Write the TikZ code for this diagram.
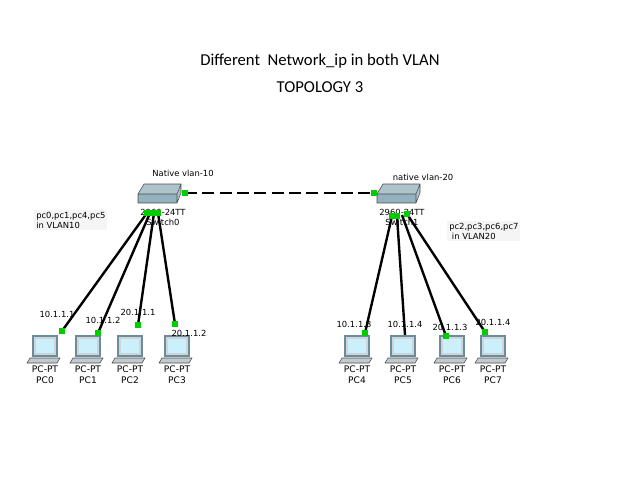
\documentclass[tikz,border=0pt]{standalone}
\usepackage{fontspec}
\setmainfont{Carlito}
\newfontfamily\tah{DejaVu Sans}
\begin{document}
\begin{tikzpicture}[x=0.75pt,y=-0.75pt,
  lbl/.style={font=\tah\fontsize{6.3}{7.5}\selectfont,inner sep=0.5pt},
  link/.style={line width=1.8pt,black},
  dot/.style={fill=green!80!black,draw=none,minimum size=5pt,inner sep=0pt,rectangle},
  pcl/.style={font=\tah\fontsize{6.8}{8.5}\selectfont,align=center,inner sep=0pt}]
\useasboundingbox (0,0) rectangle (638,479);
\node (t1) at (320,61) {\fontsize{12.5}{14}\selectfont Different\ \ Network\_ip in both VLAN};
\node (t2) at (320,87) {\fontsize{12.5}{14}\selectfont TOPOLOGY 3};
\tikzset{pics/sw/.style={code={
  \fill[cyan!25!gray!60] (-21,-1) -- (-15,-11) -- (22,-11) -- (18,-1) -- cycle;
  \fill[cyan!30!gray!80] (-21,-1) rectangle (18,8);
  \fill[gray!70!cyan!60] (18,-1) -- (22,-11) -- (22,-2) -- (18,8) -- cycle;
  \draw[gray!60!black,line width=0.4pt] (-21,-1) -- (-15,-11) -- (22,-11) -- (22,-2) -- (18,8) -- (-21,8) -- cycle (-21,-1)--(18,-1)--(22,-11) (18,-1)--(18,8);
}}}
\tikzset{pics/pc/.style={code={
  \fill[cyan!15!gray!40] (-12,-14) rectangle (12,6);
  \draw[gray!60!cyan!80!black,line width=0.9pt] (-12,-14) rectangle (12,6);
  \fill[cyan!20!white] (-9,-11) rectangle (9,3);
  \fill[cyan!15!gray!50] (-15,8) -- (15,8) -- (12,13) -- (-18,13) -- cycle;
  \draw[gray!60!black,line width=0.4pt] (-15,8) -- (15,8) -- (12,13) -- (-18,13) -- cycle;
}}}
\pic at (159,195) {sw};
\pic at (398,195) {sw};
\node[lbl] (nv1) at (183,173) {Native vlan-10};
\node[lbl] (nv2) at (423,177) {native vlan-20};
\node[lbl,align=center] (s0) at (163,217) {2960-24TT\\Switch0};
\node[lbl,align=center] (s1) at (402,217) {2960-24TT\\Switch1};
\node[lbl,align=left,fill=gray!8,anchor=west,inner sep=1.5pt] (n1) at (34,220) {pc0,pc1,pc4,pc5\\in VLAN10};
\node[lbl,align=left,fill=gray!8,anchor=west,inner sep=1.5pt] (n2) at (447,231) {pc2,pc3,pc6,pc7\\\ in VLAN20};
\coordinate (a0) at (147,213); \coordinate (a1) at (150,213); \coordinate (a2) at (154,213); \coordinate (a3) at (158,213);
\coordinate (b0) at (392,216); \coordinate (b1) at (397,216); \coordinate (b2) at (402,215); \coordinate (b3) at (407,214);
\foreach \n/\x in {0/45,1/88,2/130,3/177,4/357,5/403,6/452,7/493}{
  \pic at (\x,350) {pc};
  \node[pcl] (pc\n) at (\x,375) {PC-PT\\PC\n};
}
\coordinate (e0) at (62,331); \coordinate (e1) at (98,333); \coordinate (e2) at (138,325); \coordinate (e3) at (175,324);
\coordinate (e4) at (365,333); \coordinate (e5) at (405,335); \coordinate (e6) at (446,336); \coordinate (e7) at (485,332);
\draw[link] (a0)--(e0) (a1)--(e1) (a2)--(e2) (a3)--(e3);
\draw[link] (b0)--(e4) (b1)--(e5) (b2)--(e6) (b3)--(e7);
\draw[line width=2pt,dash pattern=on 9pt off 4pt] (185,193) -- (374,193);
\foreach \c in {e0,e1,e2,e3,e4,e6,e7,a0,a1,a2,a3,b0,b1,b3}{\node[dot] at (\c) {};}
\node[dot] at (185,193) {}; \node[dot] at (374,193) {};
\node[lbl] (i0) at (57,314) {10.1.1.1};
\node[lbl] (i1) at (103,320) {10.1.1.2};
\node[lbl] (i2) at (138,312) {20.1.1.1};
\node[lbl] (i3) at (189,333) {20.1.1.2};
\node[lbl] (i4) at (354,324) {10.1.1.3};
\node[lbl] (i5) at (405,324) {10.1.1.4};
\node[lbl] (i6) at (450,327) {20.1.1.3};
\node[lbl] (i7) at (493,322) {20.1.1.4};
\end{tikzpicture}
\end{document}
